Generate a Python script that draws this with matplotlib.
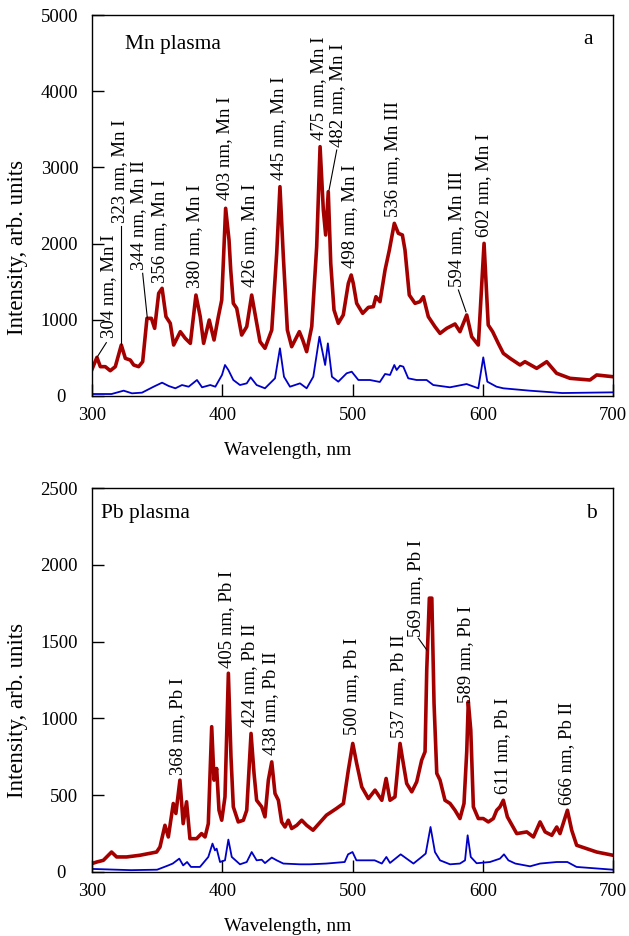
import matplotlib
matplotlib.use("Agg")
import matplotlib.pyplot as plt
import matplotlib.transforms as mtransforms

plt.rcParams['font.family'] = ['Liberation Serif', 'DejaVu Serif']
plt.rcParams['mathtext.fontset'] = 'stix'

# ---------------- data: Mn plasma (panel a) ----------------
mn_red_wl = [300, 303.8, 306.4, 310.2, 314, 317.9, 322.5, 325.6, 329.4, 332, 335.8, 338.9,
             342.2, 345.6, 348.1, 351.2, 353.8, 356.8, 360.1, 362.7, 367.8, 371.6, 375.5,
             379.8, 383.1, 385.7, 390, 393.7, 397, 399.6, 402.6, 405.2, 406.5, 408.5, 411.1,
             414.9, 418.8, 422.6, 425.1, 429, 432.8, 438, 441.8, 444.3, 446.9, 450, 453.3,
             456.6, 459.2, 461.8, 464.8, 468.7, 472.5, 475.1, 477.6, 479.4, 481.4, 483.3,
             485.8, 489.1, 492.9, 496.8, 499, 500.6, 503.2, 507.8, 512.2, 516, 518, 521.1,
             525, 528.3, 532.1, 535.2, 538.3, 540.3, 543.6, 548, 551.8, 554.4, 558.2, 563.3,
             567.2, 572.3, 578.7, 582.5, 587.7, 591.5, 596.6, 601, 604.2, 607.6, 611.9,
             615.8, 620.9, 628.6, 632.4, 641.4, 649.1, 656.7, 667, 682.3, 687.5, 700]
mn_red_val = [350, 507, 385, 385, 332, 385, 669, 494, 472, 407, 385, 450,
              1019, 1019, 888, 1348, 1413, 1041, 954, 669, 844, 757, 691,
              1325, 1041, 691, 997, 735, 1041, 1260, 2463, 2047, 1654, 1216, 1151,
              800, 910, 1325, 1085, 713, 626, 866, 1872, 2747, 1828, 866, 647,
              757, 844, 735, 582, 910, 1959, 3272, 2441, 2113, 2681, 1741,
              1129, 954, 1063, 1478, 1588, 1478, 1216, 1085, 1163, 1172, 1303, 1238,
              1654, 1916, 2266, 2135, 2113, 1916, 1325, 1216, 1238, 1303, 1041, 910,
              822, 888, 945, 844, 1063, 778, 669, 2003, 932, 844, 691,
              560, 495, 407, 450, 363, 450, 298, 232, 210, 276, 253]

mn_blue_wl = [300, 315, 324.3, 330.7, 338.4, 347.3, 353.8, 358.9, 364, 369.1, 374.2, 380.6,
              384.5, 390.8, 394.7, 399.8, 402.1, 404.7, 408.5, 413.6, 418.8, 421.8, 426.4,
              432.8, 440.5, 444.3, 447.4, 452, 459.7, 464.8, 469.9, 474.6, 479, 481.1, 484.2,
              489.1, 495.5, 499.4, 504.5, 513.4, 521, 525, 528.8, 532.1, 533.9, 536.5, 539,
              542.8, 549.2, 556.9, 562, 574.8, 587.6, 596.6, 600.4, 603.5, 610.6, 615.8,
              636, 661, 700]
mn_blue_val = [26, 26, 70, 35, 44, 122, 175, 131, 101, 144, 122, 210,
               114, 144, 122, 276, 407, 341, 210, 144, 166, 245, 144,
               101, 232, 626, 253, 122, 166, 101, 253, 778, 407, 691, 253,
               188, 298, 319, 210, 210, 184, 289, 276, 407, 341, 398, 385,
               232, 210, 210, 144, 114, 157, 101, 507, 188, 122, 101,
               70, 39, 48]

# ---------------- data: Pb plasma (panel b) ----------------
pb_red_wl = [300, 303.6, 308.7, 315, 318.9, 326.6, 336.8, 349.6, 352.2, 356, 358.6, 362.4,
             364.4, 367.5, 370, 372.6, 375.2, 380.3, 384.1, 386.8, 389.3, 391.9, 393.7,
             395.7, 397.5, 399.6, 402.1, 404.7, 406.7, 408.5, 412.3, 416.2, 418.8, 422.1,
             424.4, 426.4, 430.3, 432.8, 435.4, 438, 440.5, 443.1, 445.6, 448.2, 450.7,
             453.3, 457.2, 461, 464.8, 469.7, 480, 487.6, 493, 496.8, 500.2, 503.2, 507.1,
             512.2, 517.3, 522.5, 525.8, 528.8, 532.6, 536.5, 539, 541.6, 545.5, 549.3,
             553.1, 555.7, 557, 559, 560.9, 562.6, 564.7, 567.2, 571, 574.9, 578.7, 582.5,
             585.6, 587.7, 588.9, 590.8, 592.8, 596.6, 600.4, 604.3, 608.1, 610.7, 613.2,
             615.8, 618.9, 626.1, 633.8, 638.9, 644, 647.9, 653, 656.8, 659.3, 665, 668.3,
             672.1, 679.8, 687.5, 700]
pb_red_val = [55, 65, 76, 130, 98, 98, 109, 130, 163, 304, 228, 446,
              381, 598, 315, 457, 217, 217, 250, 228, 315, 946, 598,
              674, 402, 337, 489, 1294, 750, 424, 326, 337, 402, 902,
              642, 467, 424, 359, 598, 717, 511, 467, 326, 293, 337,
              283, 304, 337, 304, 272, 370, 413, 446, 663, 837, 707, 554,
              478, 533, 467, 609, 467, 489, 837, 707, 576, 522, 587,
              728, 783, 1315, 1783, 1783, 1098, 642, 598, 467, 446, 402, 348,
              446, 783, 1109, 924, 424, 348, 348, 326, 348, 402, 424,
              467, 359, 250, 261, 228, 326, 261, 239, 293, 250, 402, 272,
              174, 152, 130, 109]

pb_blue_wl = [300, 330, 350, 358.6, 362, 367, 370, 373, 376, 382.9, 389.3, 392.5, 394.4,
              395.7, 398.3, 402.1, 404.7, 407.3, 413.6, 418.8, 422.6, 426.4, 430.3, 432.8,
              438, 441.8, 446.9, 459.7, 467.3, 480, 494, 496.6, 500, 503, 517, 522.5, 526,
              528.8, 537, 546.8, 553.1, 556.2, 559.9, 563.3, 567.2, 574.9, 582.5, 586.4,
              588.4, 590.8, 595.3, 605.5, 613.2, 616.3, 619.7, 625, 636.3, 644, 656.8, 665,
              672, 700]
pb_blue_val = [20, 12, 15, 43, 55, 87, 43, 65, 33, 33, 98, 185, 141,
               152, 65, 76, 211, 98, 50, 65, 130, 76, 80, 58,
               94, 76, 55, 50, 50, 55, 65, 115, 130, 76, 76, 55, 98,
               59, 115, 55, 98, 120, 293, 130, 76, 50, 55, 76,
               239, 98, 57, 65, 87, 115, 76, 55, 37, 55, 65, 65,
               33, 15]

xticks = [300, 400, 500, 600, 700]
mn_yticks = [0, 1000, 2000, 3000, 4000, 5000]
pb_yticks = [0, 500, 1000, 1500, 2000, 2500]

mn_labels = ["304 nm, Mn I", "323 nm, Mn I", "344 nm, Mn II", "356 nm, Mn I",
             "380 nm, Mn I", "403 nm, Mn I", "426 nm, Mn I", "445 nm, Mn I",
             "475 nm, Mn I", "482 nm, Mn I", "498 nm, Mn I", "536 nm, Mn III",
             "594 nm, Mn III", "602 nm, Mn I"]
pb_labels = ["368 nm, Pb I", "405 nm, Pb I", "424 nm, Pb II", "438 nm, Pb II",
             "500 nm, Pb I", "537 nm, Pb II", "569 nm, Pb I", "589 nm, Pb I",
             "611 nm, Pb I", "666 nm, Pb II"]

# ---------------- layout (label anchor positions, leader lines) ----------------
mn_label_pos = [(312.5, 760), (321.5, 2270), (336.0, 1654), (352.2, 1483),
                (378.5, 1413), (401.6, 2572), (421.3, 1434), (443.0, 2835),
                (473.8, 3360), (488.2, 3272), (498.1, 1676), (530.6, 2353),
                (580.0, 1434), (601.0, 2090)]
mn_leaders = [((303.8, 507), (311.0, 700)),
              ((322.5, 669), (322.5, 2230)),
              ((342.5, 1019), (338.9, 1610)),
              ((482.0, 2703), (487.9, 3228)),
              ((587.1, 1106), (581.3, 1391))]
pb_label_pos = [(365.5, 631), (403.4, 1327), (420.8, 946), (437.2, 761),
                (499.4, 891), (535.2, 870), (548.7, 1533), (587.1, 1098),
                (615.3, 511), (664.5, 435)]
pb_leaders = [((557.0, 1446), (550.6, 1522))]

RED = '#a50000'
BLUE = '#0000c8'

fig = plt.figure(figsize=(6.29, 9.36), dpi=100)
W, H = 629, 936
ax1 = fig.add_axes([92 / W, 1 - 396 / H, 521 / W, 381 / H])
ax2 = fig.add_axes([92 / W, 1 - 872 / H, 521 / W, 384 / H])


def style(ax, yticks, ymax):
    ax.set_xlim(300, 700)
    ax.set_ylim(0, ymax)
    ax.set_xticks(xticks)
    ax.set_yticks(yticks)
    ax.tick_params(direction='in', length=8.4, width=1.0, labelsize=13.5,
                   top=False, right=False)
    ax.tick_params(axis='x', pad=8)
    ax.tick_params(axis='y', pad=10)
    for s in ax.spines.values():
        s.set_linewidth(1.0)
    ax.set_xlabel("Wavelength, nm", fontsize=14)
    ax.set_ylabel("Intensity, arb. units", fontsize=16.5)
    ax.xaxis.set_label_coords(0.375, -0.12)
    # shift the "0" tick label to the left
    fig.canvas.draw()
    lab0 = ax.get_yticklabels()[0]
    lab0.set_transform(lab0.get_transform() +
                       mtransforms.ScaledTranslation(-12 / 100, 0, fig.dpi_scale_trans))


# panel a
ax1.plot(mn_blue_wl, mn_blue_val, color=BLUE, lw=1.3)
ax1.plot(mn_red_wl, mn_red_val, color=RED, lw=2.6)
style(ax1, mn_yticks, 5000)
ax1.yaxis.set_label_coords(-0.122, 0.39)
for txt, (x, y) in zip(mn_labels, mn_label_pos):
    ax1.text(x, y, txt, rotation=90, ha='center', va='bottom', fontsize=13.5)
for (p0, p1) in mn_leaders:
    ax1.plot([p0[0], p1[0]], [p0[1], p1[1]], color='black', lw=0.8)
ax1.text(325.3, 4619, "Mn plasma", fontsize=15.5, ha='left', va='center')
ax1.text(680.7, 4685, "a", fontsize=15.5, ha='center', va='center')

# panel b
ax2.plot(pb_blue_wl, pb_blue_val, color=BLUE, lw=1.3)
ax2.plot(pb_red_wl, pb_red_val, color=RED, lw=2.6)
style(ax2, pb_yticks, 2500)
ax2.yaxis.set_label_coords(-0.122, 0.42)
for txt, (x, y) in zip(pb_labels, pb_label_pos):
    ax2.text(x, y, txt, rotation=90, ha='center', va='bottom', fontsize=13.5)
for (p0, p1) in pb_leaders:
    ax2.plot([p0[0], p1[0]], [p0[1], p1[1]], color='black', lw=0.8)
ax2.text(306.7, 2337, "Pb plasma", fontsize=15.5, ha='left', va='center')
ax2.text(683.6, 2337, "b", fontsize=15.5, ha='center', va='center')

fig.savefig("out.png", dpi=100)
